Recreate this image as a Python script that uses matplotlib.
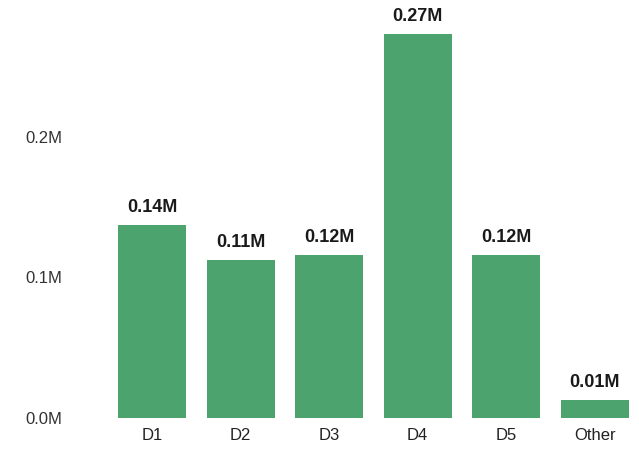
import numpy as np
import matplotlib.pyplot as plt

plt.rcParams['font.family'] = ['Liberation Sans', 'DejaVu Sans']

# values
categories = ['D1', 'D2', 'D3', 'D4', 'D5', 'Other']
values = [137000, 112000, 116000, 273000, 116000, 13000]
yticks = [0, 100000, 200000]

fig = plt.figure(figsize=(6.39, 4.5), dpi=100)
ax = fig.add_axes([0.169, 0.071, 0.831, 0.907])

x = np.arange(len(categories))
bars = ax.bar(x, values, width=0.77, color='#4ca36e')

for b, v in zip(bars, values):
    ax.annotate(f'{v/1e6:.2f}M', (b.get_x() + b.get_width()/2, v),
                xytext=(0, 6.5), textcoords='offset points',
                ha='center', va='bottom', fontsize=13, fontweight='bold',
                color='#1a1a1a')

ax.set_xlim(-0.5, len(categories) - 0.5)
ax.set_ylim(0, 290000)
ax.set_xticks(x)
ax.set_xticklabels(categories, fontsize=12, color='#222222')
ax.set_yticks(yticks)
ax.set_yticklabels([f'{t/1e6:.1f}M' for t in yticks], fontsize=12, color='#333333')
ax.tick_params(axis='y', length=0, pad=33)
ax.tick_params(axis='x', length=0, pad=7)
for s in ax.spines.values():
    s.set_visible(False)

plt.savefig('out.png', dpi=100)
